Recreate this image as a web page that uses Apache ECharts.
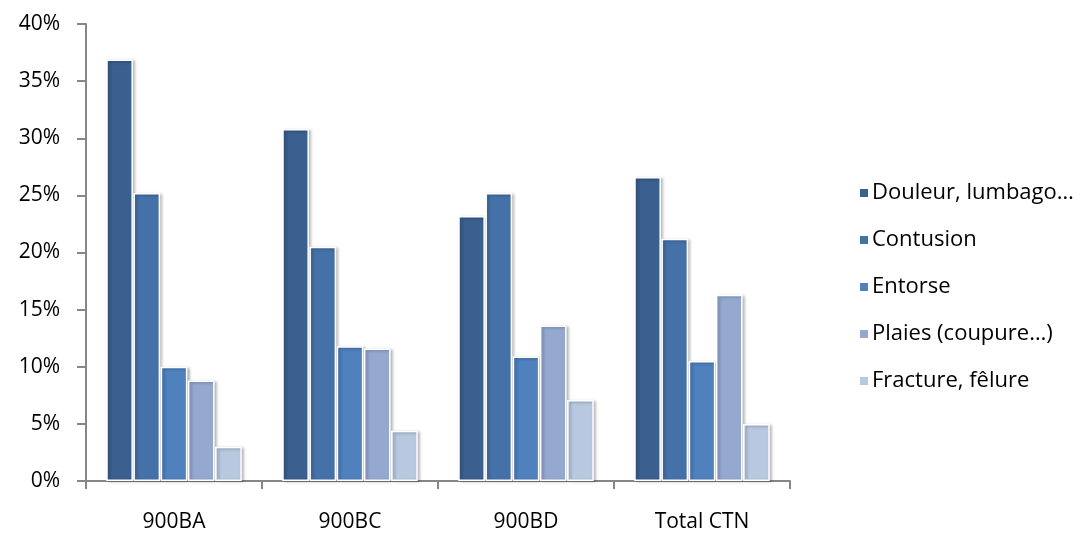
<!DOCTYPE html>
<html><head><meta charset="utf-8">
<script src="https://cdn.jsdelivr.net/npm/echarts@6/dist/echarts.min.js"></script>
<style>html,body{margin:0;padding:0;background:#fff}#c{width:1083px;height:533px}</style>
</head><body><div id="c"></div>
<script>
const categories = ['900BA', '900BC', '900BD', 'Total CTN'];
const seriesNames = ['Douleur, lumbago…', 'Contusion', 'Entorse', 'Plaies (coupure…)', 'Fracture, fêlure'];
const douleur = [36.9, 30.8, 23.2, 26.6];
const contusion = [25.2, 20.5, 25.2, 21.2];
const entorse = [10.0, 11.8, 10.9, 10.5];
const plaies = [8.8, 11.6, 13.6, 16.3];
const fracture = [3.0, 4.4, 7.1, 5.0];
const colors = ['#3B5F8F', '#4472A8', '#4F81BD', '#95A9D0', '#B9C8E1'];
const valuesList = [douleur, contusion, entorse, plaies, fracture];
const font = '"Open Sans", sans-serif';

const chart = echarts.init(document.getElementById('c'));
chart.setOption({
  animation: false,
  grid: {left: 86, right: 293, top: 24, bottom: 52, containLabel: false},
  legend: {
    orient: 'vertical', left: 853, top: 176,
    itemWidth: 10, itemHeight: 10, itemGap: 23,
    icon: 'rect',
    textStyle: {fontFamily: font, fontSize: 22, color: '#000', lineHeight: 24, padding: [0,0,0,-2]},
    data: seriesNames
  },
  xAxis: {
    type: 'category', data: categories,
    axisLine: {lineStyle: {color: '#868686', width: 2}},
    axisTick: {show: true, length: 8, lineStyle: {color: '#868686', width: 2}},
    axisLabel: {fontFamily: font, fontSize: 21, color: '#000', margin: 31}
  },
  yAxis: {
    type: 'value', min: 0, max: 40, interval: 5,
    axisLine: {show: true, lineStyle: {color: '#868686', width: 2}},
    axisTick: {show: true, length: 9, lineStyle: {color: '#868686', width: 2}},
    splitLine: {show: false},
    axisLabel: {fontFamily: font, fontSize: 21, color: '#000', margin: 26, formatter: '{value}%'}
  },
  series: seriesNames.map((n, i) => ({
    name: n, type: 'bar', data: valuesList[i],
    barCategoryGap: '23%', barGap: '2%',
    itemStyle: {color: colors[i], borderColor: '#fff', borderWidth: 1.5,
      shadowBlur: 3, shadowOffsetX: 2, shadowOffsetY: 1, shadowColor: 'rgba(0,0,0,0.3)'}
  }))
});
</script></body></html>
